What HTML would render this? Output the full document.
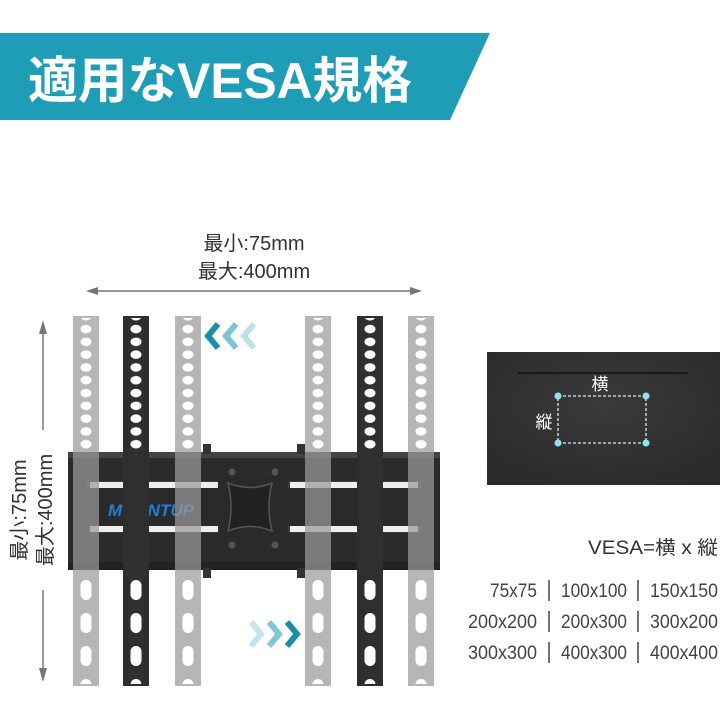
<!DOCTYPE html>
<html><head><meta charset="utf-8"><style>
html,body{margin:0;padding:0;background:#fff;width:720px;height:720px;overflow:hidden}
svg{display:block}
text{font-family:"Liberation Sans","Noto Sans CJK JP",sans-serif}
</style></head><body>
<svg width="720" height="720" viewBox="0 0 720 720" xmlns="http://www.w3.org/2000/svg">
<defs>
<pattern id="holes" x="0" y="324" width="26" height="12.8" patternUnits="userSpaceOnUse">
<ellipse cx="13" cy="5" rx="5.5" ry="4.3" fill="#fff"/>
</pattern>
<pattern id="slots" x="0" y="574" width="26" height="33" patternUnits="userSpaceOnUse">
<rect x="7.5" y="6" width="11" height="20" rx="5.5" fill="#fff"/>
</pattern>
<radialGradient id="tv" cx="50%" cy="40%" r="70%"><stop offset="0" stop-color="#3a3a3a"/><stop offset="1" stop-color="#2a2a2a"/></radialGradient>
</defs>
<!-- banner -->
<polygon points="0,33 490,33 450,120 0,120" fill="#1f9db6"/>
<text x="28" y="98" font-size="50" font-weight="bold" fill="#fff" textLength="384" lengthAdjust="spacingAndGlyphs">適用なVESA規格</text>

<!-- horizontal dimension -->
<text x="254" y="250" font-size="20" fill="#333" text-anchor="middle">最小:75mm</text>
<text x="254" y="278" font-size="20" fill="#333" text-anchor="middle">最大:400mm</text>
<line x1="90" y1="291" x2="418" y2="291" stroke="#777" stroke-width="1.5"/>
<polygon points="86,291 98,287 98,295" fill="#777"/>
<polygon points="422,291 410,287 410,295" fill="#777"/>

<!-- vertical dimension -->
<line x1="43" y1="326" x2="43" y2="430" stroke="#777" stroke-width="1.5"/>
<line x1="43" y1="590" x2="43" y2="676" stroke="#777" stroke-width="1.5"/>
<polygon points="43,320 39,334 47,334" fill="#777"/>
<polygon points="43,682 39,668 47,668" fill="#777"/>
<text transform="translate(26,510) rotate(-90)" font-size="20" fill="#333" text-anchor="middle">最小:75mm</text>
<text transform="translate(52,510) rotate(-90)" font-size="20" fill="#333" text-anchor="middle">最大:400mm</text>

<!-- bracket -->
<rect x="68" y="452" width="372" height="118" fill="#2b2b2b"/>
<rect x="68" y="452" width="372" height="6" fill="#444"/>
<rect x="68" y="562" width="372" height="8" fill="#222"/>
<rect x="86" y="481" width="336" height="52" rx="4" fill="#3a3a3a"/>
<rect x="90" y="482" width="130" height="6" fill="#eee"/>
<rect x="290" y="482" width="128" height="6" fill="#eee"/>
<rect x="90" y="526" width="130" height="6" fill="#eee"/>
<rect x="290" y="526" width="128" height="6" fill="#eee"/>
<rect x="86" y="488" width="336" height="38" fill="#2a2a2a"/>
<text x="108" y="516" font-size="17" font-weight="bold" font-style="italic" fill="#1d7fd8">MOUNTUP</text>
<rect x="218" y="474" width="70" height="70" fill="#2a2a2a"/>
<path d="M228,483 Q250,492 272,483 Q266,507 272,531 Q250,522 228,531 Q234,507 228,483 Z" fill="#222" stroke="#555" stroke-width="1.5"/>
<circle cx="232" cy="472" r="3.5" fill="#555"/><circle cx="275" cy="472" r="3.5" fill="#555"/>
<circle cx="232" cy="545" r="3.5" fill="#555"/><circle cx="275" cy="545" r="3.5" fill="#555"/>
<rect x="203" y="444" width="8" height="10" fill="#333"/><rect x="297" y="444" width="8" height="10" fill="#333"/>
<rect x="203" y="568" width="8" height="10" fill="#333"/><rect x="297" y="568" width="8" height="10" fill="#333"/>

<!-- light rails -->
<g opacity="0.72" fill="#9a9a9a">
<rect x="73" y="316" width="26" height="370"/>
<rect x="175" y="316" width="26" height="370"/>
<rect x="305" y="316" width="26" height="370"/>
<rect x="408" y="316" width="26" height="370"/>
</g>
<g transform="translate(73,0)"><rect y="318" width="26" height="132" fill="url(#holes)"/><rect y="574" width="26" height="110" fill="url(#slots)"/></g>
<g transform="translate(175,0)"><rect y="318" width="26" height="132" fill="url(#holes)"/><rect y="574" width="26" height="110" fill="url(#slots)"/></g>
<g transform="translate(305,0)"><rect y="318" width="26" height="132" fill="url(#holes)"/><rect y="574" width="26" height="110" fill="url(#slots)"/></g>
<g transform="translate(408,0)"><rect y="318" width="26" height="132" fill="url(#holes)"/><rect y="574" width="26" height="110" fill="url(#slots)"/></g>
<!-- dark rails -->
<rect x="123" y="316" width="26" height="370" fill="#2f2f2f"/>
<rect x="357" y="316" width="26" height="370" fill="#2f2f2f"/>
<g transform="translate(123,0)"><rect y="318" width="26" height="132" fill="url(#holes)"/><rect y="574" width="26" height="110" fill="url(#slots)"/></g>
<g transform="translate(357,0)"><rect y="318" width="26" height="132" fill="url(#holes)"/><rect y="574" width="26" height="110" fill="url(#slots)"/></g>

<!-- chevrons -->
<g fill="none" stroke-width="6">
<polyline points="218,324 208,336 218,348" stroke="#1a8fa6"/>
<polyline points="236,324 226,336 236,348" stroke="#7cc3d3"/>
<polyline points="254,324 244,336 254,348" stroke="#bfe0e8"/>
<polyline points="251,622 261,634 251,646" stroke="#c6e4eb"/>
<polyline points="269,622 279,634 269,646" stroke="#82c6d5"/>
<polyline points="287,622 297,634 287,646" stroke="#1a8fa6"/>
</g>

<!-- TV -->
<rect x="487" y="352" width="233" height="133" fill="url(#tv)"/>
<line x1="518" y1="373" x2="688" y2="373" stroke="#111" stroke-width="1.5"/>
<text x="600" y="390" font-size="17" fill="#fff" text-anchor="middle">横</text>
<text x="544" y="428" font-size="17" fill="#fff" text-anchor="middle">縦</text>
<rect x="558" y="396" width="88" height="47" fill="none" stroke="#cfeef5" stroke-width="1.3" stroke-dasharray="3,2"/>
<g fill="#8fe3f2"><circle cx="558" cy="396" r="3.5"/><circle cx="646" cy="396" r="3.5"/><circle cx="558" cy="443" r="3.5"/><circle cx="646" cy="443" r="3.5"/></g>

<!-- VESA text -->
<text x="588" y="554" font-size="19" fill="#333" textLength="130" lengthAdjust="spacingAndGlyphs">VESA=横 x 縦</text>
<g font-size="19" fill="#444">
<text x="490" y="597" textLength="47" lengthAdjust="spacingAndGlyphs">75x75</text>
<text x="468" y="628" textLength="69" lengthAdjust="spacingAndGlyphs">200x200</text>
<text x="468" y="659" textLength="69" lengthAdjust="spacingAndGlyphs">300x300</text>
<text x="561" y="597" textLength="66" lengthAdjust="spacingAndGlyphs">100x100</text>
<text x="561" y="628" textLength="66" lengthAdjust="spacingAndGlyphs">200x300</text>
<text x="561" y="659" textLength="66" lengthAdjust="spacingAndGlyphs">400x300</text>
<text x="650" y="597" textLength="68" lengthAdjust="spacingAndGlyphs">150x150</text>
<text x="650" y="628" textLength="68" lengthAdjust="spacingAndGlyphs">300x200</text>
<text x="650" y="659" textLength="68" lengthAdjust="spacingAndGlyphs">400x400</text>
</g>
<g stroke="#444" stroke-width="1.5">
<line x1="549" y1="580" x2="549" y2="601"/><line x1="638" y1="580" x2="638" y2="601"/>
<line x1="549" y1="611" x2="549" y2="632"/><line x1="638" y1="611" x2="638" y2="632"/>
<line x1="549" y1="642" x2="549" y2="663"/><line x1="638" y1="642" x2="638" y2="663"/>
</g>
</svg>
</body></html>
